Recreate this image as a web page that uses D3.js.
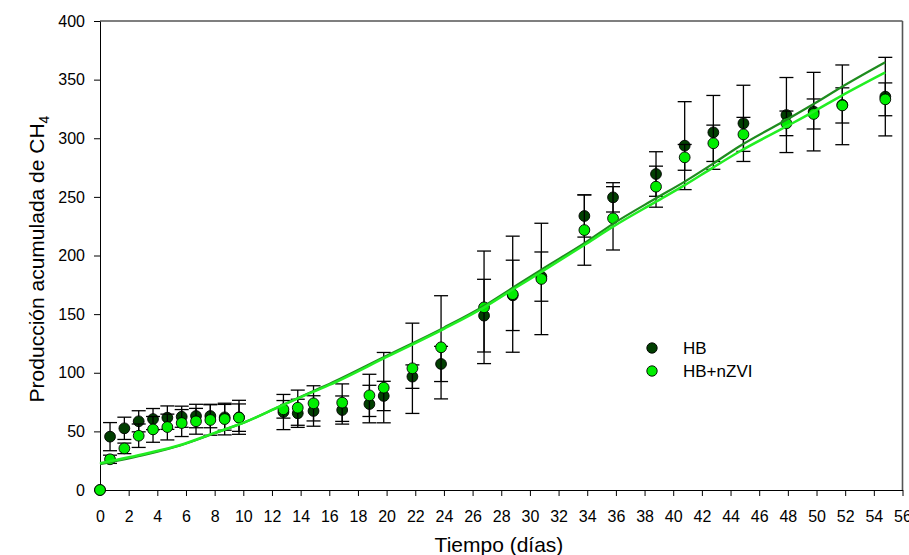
<!DOCTYPE html>
<html>
<head>
<meta charset="utf-8">
<script src="https://cdn.jsdelivr.net/npm/d3@7"></script>
<style>
  html, body { margin: 0; padding: 0; background: #fff; }
  svg { display: block; font-family: "Liberation Sans", Arial, sans-serif; }
</style>
</head>
<body>
<svg id="chart" width="909" height="555"></svg>
<script>
// ---- data ----
const days = [0, 0.7, 1.7, 2.7, 3.7, 4.7, 5.7, 6.7, 7.7, 8.7, 9.7, 12.8, 13.8, 14.9, 16.9, 18.8, 19.8, 21.8, 23.8, 26.8, 28.8, 30.8, 33.8, 35.8, 38.8, 40.8, 42.8, 44.9, 47.9, 49.8, 51.8, 54.8];
const hbValues = [0, 45.5, 52.6, 58.6, 60.5, 61.7, 62.5, 63.1, 63.1, 62, 62, 66.5, 65.4, 67.4, 68.2, 73.3, 80.2, 96.7, 107.5, 148.7, 166, 182, 233.7, 249.6, 269.5, 293.7, 305, 312.7, 319.8, 322.7, 328.5, 335.5];
const hbErrors = [0, 12, 9.5, 9, 9, 10, 9, 10, 10, 11, 14.5, 15, 12, 13, 12, 16, 12.5, 10, 15, 31, 30, 21, 18, 12.5, 19, 37.5, 31.5, 32.5, 32, 33.5, 34, 33.5];
const nzviValues = [0, 26.2, 35.5, 46.3, 51.7, 53.7, 57.1, 58.6, 59.7, 60.5, 61.7, 68.8, 70.2, 73.9, 74.5, 80.7, 87.3, 103.8, 121.7, 155.8, 167, 180, 221.7, 231.7, 258.7, 283.7, 295.7, 303.3, 312.7, 320.7, 328, 333.2];
const nzviErrors = [0, 3.5, 4.5, 10, 11, 11, 11.5, 11, 13, 13.5, 11.7, 7.5, 15, 15, 16, 18, 30, 38.5, 44, 48, 49.5, 47.5, 30, 27, 17.5, 11, 15.5, 14.5, 10.5, 12.8, 15, 14];

const fitDays = [0, 3.3, 5.6, 7.9, 10.2, 12.5, 14.9, 16, 20, 24, 26.8, 28.8, 30.8, 33.8, 35.8, 38.8, 40.8, 42.8, 44.6, 48, 49.8, 51.7, 54.8];
const hbFit = [22, 30.5, 38, 48, 58.3, 71, 84.5, 90.5, 114.5, 138.5, 157, 172.5, 188, 210.5, 227, 248.8, 263, 278.5, 293, 316.4, 329.2, 343.3, 364.8];
const nzviFit = [22.8, 31.3, 38.4, 48.3, 58.3, 71, 83.9, 89.6, 113.5, 137.5, 155.8, 171, 186, 209, 224.6, 245.9, 260, 275.2, 288.5, 310.7, 322.7, 336, 356.2];

const xTicks = d3.range(0, 57, 2);
const yTicks = d3.range(0, 401, 50);
const seriesNames = ["HB", "HB+nZVI"];

// ---- layout ----
const svg = d3.select("#chart");
const x = d3.scaleLinear().domain([0, 56]).range([100, 902.5]);
const y = d3.scaleLinear().domain([0, 400]).range([490, 21]);
const colors = { hb: "#013f01", nz: "#00ee00", hbLine: "#1e8c1e", nzLine: "#22ee22" };

// frame (top & right)
svg.append("line").attr("x1", x(0)).attr("x2", x(56)).attr("y1", y(400)).attr("y2", y(400))
  .attr("stroke", "#555").attr("stroke-width", 1.6);
svg.append("line").attr("x1", x(56)).attr("x2", x(56)).attr("y1", y(400)).attr("y2", y(0))
  .attr("stroke", "#555").attr("stroke-width", 1.6);

// axes
const yAxis = d3.axisLeft(y).tickValues(yTicks).tickSize(6).tickSizeOuter(0).tickPadding(9);
const xAxis = d3.axisBottom(x).tickValues(xTicks).tickSize(6).tickSizeOuter(0).tickPadding(15);
const gy = svg.append("g").attr("transform", `translate(${x(0)},0)`).call(yAxis);
const gx = svg.append("g").attr("transform", `translate(0,${y(0)})`).call(xAxis);
[gx, gy].forEach(g => {
  g.selectAll("text").attr("font-size", 16).attr("fill", "#000").attr("font-family", '"Liberation Sans", Arial, sans-serif');
  g.selectAll("line").attr("stroke", "#000");
  g.select(".domain").attr("stroke", "#000");
});

// axis titles
svg.append("text").attr("x", 499).attr("y", 552).attr("text-anchor", "middle")
  .attr("font-size", 21).attr("fill", "#000").text("Tiempo (días)");
const yt = svg.append("text").attr("transform", "translate(44,259) rotate(-90)")
  .attr("text-anchor", "middle").attr("font-size", 21).attr("fill", "#000");
yt.append("tspan").text("Producción acumulada de  CH");
yt.append("tspan").attr("font-size", 14).attr("dy", 5).text("4");

// data helpers
const hbData = days.map((d, i) => ({ d, v: hbValues[i], e: hbErrors[i] }));
const nzData = days.map((d, i) => ({ d, v: nzviValues[i], e: nzviErrors[i] }));

function drawErrors(data) {
  const g = svg.append("g").attr("stroke", "#000").attr("stroke-width", 1.3);
  data.filter(p => p.e > 0).forEach(p => {
    const cx = x(p.d), y1 = y(p.v + p.e), y2 = y(p.v - p.e);
    g.append("line").attr("x1", cx).attr("x2", cx).attr("y1", y1).attr("y2", y2);
    g.append("line").attr("x1", cx - 7).attr("x2", cx + 7).attr("y1", y1).attr("y2", y1);
    g.append("line").attr("x1", cx - 7).attr("x2", cx + 7).attr("y1", y2).attr("y2", y2);
  });
}
function drawDots(data, fill) {
  svg.append("g").selectAll("circle").data(data).join("circle")
    .attr("cx", p => x(p.d)).attr("cy", p => y(p.v)).attr("r", 5.4)
    .attr("fill", fill).attr("stroke", "#000").attr("stroke-width", 0.9);
}

drawErrors(hbData);
drawDots(hbData, colors.hb);
drawErrors(nzData);
drawDots(nzData, colors.nz);

// fitted curves
const line = d3.line().x(p => x(p[0])).y(p => y(p[1])).curve(d3.curveMonotoneX);
svg.append("path").attr("d", line(fitDays.map((d, i) => [d, hbFit[i]])))
  .attr("fill", "none").attr("stroke", colors.hbLine).attr("stroke-width", 2.2);
svg.append("path").attr("d", line(fitDays.map((d, i) => [d, nzviFit[i]])))
  .attr("fill", "none").attr("stroke", colors.nzLine).attr("stroke-width", 2.5);

// legend
const legend = svg.append("g");
[[colors.hb, 348], [colors.nz, 371]].forEach((c, i) => {
  legend.append("circle").attr("cx", 652).attr("cy", c[1]).attr("r", 5.2)
    .attr("fill", c[0]).attr("stroke", "#000").attr("stroke-width", 0.9);
  legend.append("text").attr("x", 683).attr("y", c[1] + 6).attr("font-size", 17)
    .attr("fill", "#000").text(seriesNames[i]);
});
</script>
</body>
</html>
